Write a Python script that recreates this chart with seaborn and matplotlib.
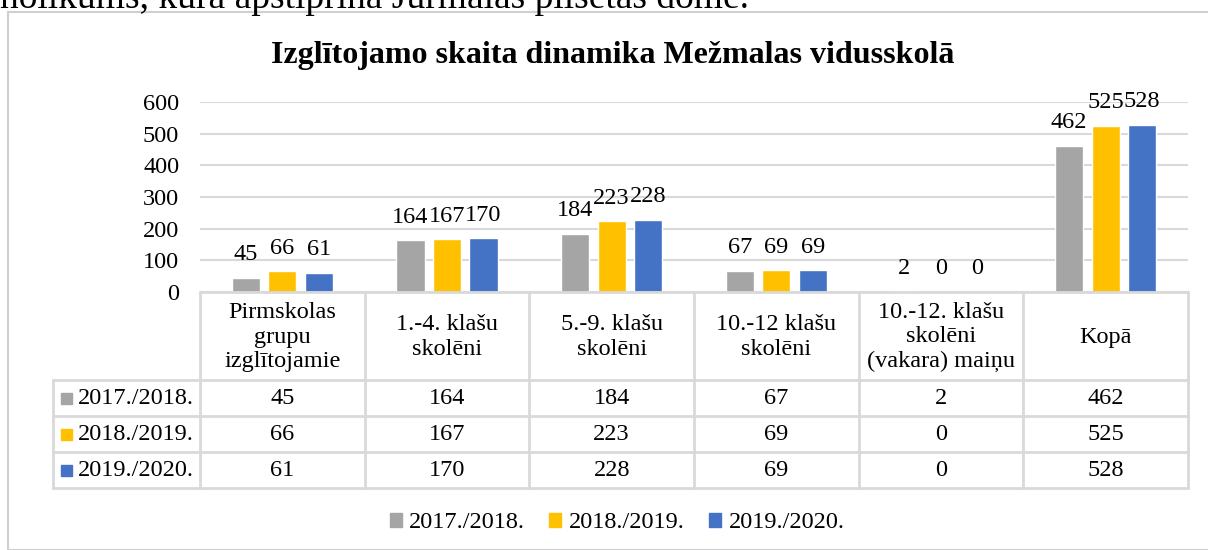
import matplotlib
matplotlib.use("Agg")
import matplotlib.pyplot as plt
import seaborn as sns
import pandas as pd
from matplotlib.patches import Rectangle

categories = ["Pirmskolas\ngrupu\nizglītojamie", "1.-4. klašu\nskolēni", "5.-9. klašu\nskolēni",
              "10.-12 klašu\nskolēni", "10.-12. klašu\nskolēni\n(vakara) maiņu", "Kopā"]
years = ["2017./2018.", "2018./2019.", "2019./2020."]
v_2017 = [45, 164, 184, 67, 2, 462]
v_2018 = [66, 167, 223, 69, 0, 525]
v_2019 = [61, 170, 228, 69, 0, 528]
colors = ["#a5a5a5", "#ffc000", "#4472c4"]
yticks = [0, 100, 200, 300, 400, 500, 600]

title = "Izglītojamo skaita dinamika Mežmalas vidusskolā"
top_text = "nolikums, kurā apstiprina Jūrmalas pilsētas dome."

df = pd.DataFrame({"cat": categories, years[0]: v_2017, years[1]: v_2018, years[2]: v_2019})
df_m = df.melt(id_vars="cat", var_name="year", value_name="n")

sns.set_theme(style="white")
plt.rcParams["font.family"] = ["Liberation Serif", "DejaVu Serif"]
plt.rcParams.update({"text.color": "black", "ytick.color": "black", "xtick.color": "black",
                     "axes.labelcolor": "black"})
FS = 17.5

W, H = 1208, 550
fig = plt.figure(figsize=(W / 100, H / 100), dpi=100)

def px(x0, y0, x1, y1):
    return [x0 / W, 1 - y1 / H, (x1 - x0) / W, (y1 - y0) / H]

# text cut off at the top of the page (as in the source screenshot)
fig.text(0, 1 - 8 / H, top_text, fontsize=27, va="baseline", ha="left")
# chart border
fig.patches.append(Rectangle((8 / W, 0), 1.2, 1 - 12 / H, transform=fig.transFigure,
                             fill=False, edgecolor="#d0d0d0", linewidth=1.5))

ax = fig.add_axes(px(200, 102, 1188, 292))
sns.barplot(data=df_m, x="cat", y="n", hue="year", palette=colors, width=0.665, gap=0.23,
            ax=ax, legend=False, saturation=1)
for c in ax.containers:
    ax.bar_label(c, fmt="%d", padding=9, fontsize=FS)
ax.set_ylim(0, 600)
ax.set_yticks(yticks)
ax.set_yticklabels([str(t) for t in yticks], fontsize=FS)
ax.set_xlim(-0.5, len(categories) - 0.5)
ax.set_xticks([])
ax.set_xlabel("")
ax.set_ylabel("")
ax.tick_params(axis="y", length=0, pad=15)
ax.grid(axis="y", color="#d9d9d9", linewidth=1.5)
ax.set_axisbelow(True)
for s in ax.spines.values():
    s.set_visible(False)

fig.text(613 / W, 1 - 55 / H, title, fontsize=23, fontweight="bold", ha="center", va="center")

# data table
tab = fig.add_axes(px(53, 292, 1188, 488))
tab.set_xlim(53, 1188)
tab.set_ylim(488, 292)
tab.axis("off")
n = len(categories)
colw = (1188 - 200) / n
col_edges = [200 + i * colw for i in range(n + 1)]
row_edges = [292, 380, 416, 452, 488]
lc = "#d9d9d9"
lw = 2
for x in col_edges:
    tab.plot([x, x], [292, 488], color=lc, lw=lw, clip_on=False)
tab.plot([53, 53], [380, 488], color=lc, lw=lw, clip_on=False)
tab.plot([200, 1188], [292, 292], color=lc, lw=lw, clip_on=False)
for y in row_edges[1:]:
    tab.plot([53, 1188], [y, y], color=lc, lw=lw, clip_on=False)
for i, cat in enumerate(categories):
    tab.text((col_edges[i] + col_edges[i + 1]) / 2, 337, cat, ha="center", va="center",
             fontsize=FS, linespacing=1.2)
series = [v_2017, v_2018, v_2019]
for r, (yr, vals, col) in enumerate(zip(years, series, colors)):
    yc = (row_edges[r + 1] + row_edges[r + 2]) / 2
    tab.add_patch(Rectangle((61, yc - 5.5), 11, 11, color=col))
    tab.text(78, yc, yr, ha="left", va="center", fontsize=FS)
    for i, v in enumerate(vals):
        tab.text((col_edges[i] + col_edges[i + 1]) / 2, yc, str(v), ha="center", va="center", fontsize=FS)

# legend
handles = [Rectangle((0, 0), 1, 1, color=c) for c in colors]
fig.legend(handles, years, loc="center", bbox_to_anchor=(617 / W, 1 - 523 / H), ncol=3,
           frameon=False, fontsize=FS, handlelength=0.5, handleheight=0.5, handletextpad=0.3,
           columnspacing=1.0)

fig.savefig("out.png", dpi=100)
